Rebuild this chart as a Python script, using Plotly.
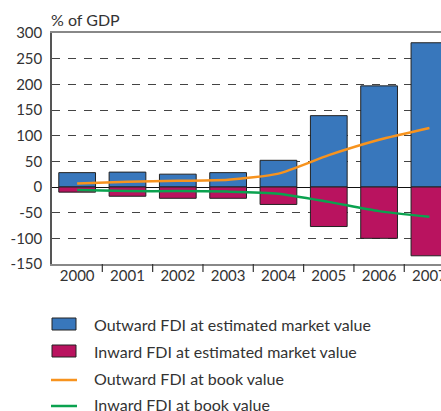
import plotly.graph_objects as go

# ---------------------------------------------------------------------------
# Data
# ---------------------------------------------------------------------------
years = ["2000", "2001", "2002", "2003", "2004", "2005", "2006", "2007"]
outward_market = [28, 29, 25, 28, 52, 139, 197, 281]
inward_market = [-10, -18, -22, -22, -34, -77, -100, -134]
outward_book = [7, 10, 12, 14, 26, 62, 92, 115]
inward_book = [-6, -8, -8, -9, -13, -29, -47, -58]

y_ticks = [-150, -100, -50, 0, 50, 100, 150, 200, 250, 300]

legend_labels = [
    "Outward FDI at estimated market value",
    "Inward FDI at estimated market value",
    "Outward FDI at book value",
    "Inward FDI at book value",
]

# ---------------------------------------------------------------------------
# Styling
# ---------------------------------------------------------------------------
BLUE = "#3877bc"
MAGENTA = "#b9135f"
ORANGE = "#f7931e"
GREEN = "#0aa24f"
TEXT = "#333333"
FONT = "Lato"

W, H = 441, 411
L, R, T, B = 52, 0, 33, 147
plot_w = W - L - R
plot_h = H - T - B

idx = list(range(len(years)))

fig = go.Figure()

fig.add_trace(go.Bar(
    x=idx, y=outward_market, width=0.73,
    marker=dict(color=BLUE, line=dict(color="#222222", width=1)),
    name=legend_labels[0], showlegend=False,
))
fig.add_trace(go.Bar(
    x=idx, y=inward_market, width=0.73,
    marker=dict(color=MAGENTA, line=dict(color="#222222", width=1)),
    name=legend_labels[1], showlegend=False,
))
fig.add_trace(go.Scatter(
    x=idx, y=outward_book, mode="lines", line_shape="spline",
    line=dict(color=ORANGE, width=2.5, smoothing=0.6),
    name=legend_labels[2], showlegend=False,
))
fig.add_trace(go.Scatter(
    x=idx, y=inward_book, mode="lines", line_shape="spline",
    line=dict(color=GREEN, width=2.5, smoothing=0.6),
    name=legend_labels[3], showlegend=False,
))


# -- helpers: window pixel -> paper coords -----------------------------------
def px_x(px):
    return (px - L) / plot_w


def px_y(py):
    return (H - B - py) / plot_h


# -- Hand-made legend below the plot -----------------------------------------
row_y = [324, 351, 378, 404]
for i, (label, py) in enumerate(zip(legend_labels, row_y)):
    if i < 2:
        fig.add_shape(
            type="rect", xref="paper", yref="paper",
            x0=px_x(52), x1=px_x(76), y0=px_y(py - 6), y1=px_y(py + 6),
            fillcolor=[BLUE, MAGENTA][i], line=dict(color="#222222", width=1),
        )
    else:
        fig.add_shape(
            type="line", xref="paper", yref="paper",
            x0=px_x(51), x1=px_x(77), y0=px_y(py + 2), y1=px_y(py + 2),
            line=dict(color=[ORANGE, GREEN][i - 2], width=2.5),
        )
    fig.add_annotation(
        x=px_x(92), y=px_y(py), xref="paper", yref="paper",
        text=label, showarrow=False, xanchor="left", yanchor="middle",
        font=dict(family=FONT, size=16, color=TEXT),
    )

# -- Axis title ---------------------------------------------------------------
fig.add_annotation(
    x=px_x(49), y=px_y(19), xref="paper", yref="paper",
    text="% of GDP", showarrow=False, xanchor="left", yanchor="middle",
    font=dict(family=FONT, size=16, color=TEXT),
)

# -- Layout ------------------------------------------------------------------
fig.update_layout(
    width=W, height=H,
    margin=dict(l=L, r=R, t=T, b=B, pad=0, autoexpand=False),
    barmode="relative",
    plot_bgcolor="white", paper_bgcolor="white",
    showlegend=False,
    font=dict(family=FONT, size=15, color=TEXT),
    xaxis=dict(
        range=[-0.5, 7.23], automargin=False,
        tickmode="array", tickvals=idx, ticktext=years,
        ticklabeloverflow="allow", ticklabelstandoff=-3,
        showgrid=False, zeroline=False,
        showline=True, linecolor="#888888", linewidth=2, mirror=True,
        ticks="", tickfont=dict(size=15, color=TEXT),
    ),
    yaxis=dict(
        range=[-150, 300], tickmode="array", automargin=False,
        tickvals=y_ticks, ticktext=[str(v) for v in y_ticks],
        showgrid=True, gridcolor="#444444", gridwidth=1, griddash="8px,8px",
        zeroline=True, zerolinecolor="#111111", zerolinewidth=1,
        showline=True, linecolor="#555555", linewidth=1.5,
        ticks="", ticklabelstandoff=5, tickfont=dict(size=15, color=TEXT),
    ),
)

# category boundary tick marks under the bottom axis
for k in range(len(years)):
    fig.add_shape(
        type="line", xref="x", yref="paper",
        x0=k + 0.5, x1=k + 0.5, y0=0, y1=-8 / plot_h,
        line=dict(color="#333333", width=1.2),
    )

# drop the browser's default 8px body margin so the figure fills the window
fig.write_html(
    "out.html",
    config={"displayModeBar": False},
    post_script="document.body.style.margin='0';document.body.style.overflow='hidden';",
)
